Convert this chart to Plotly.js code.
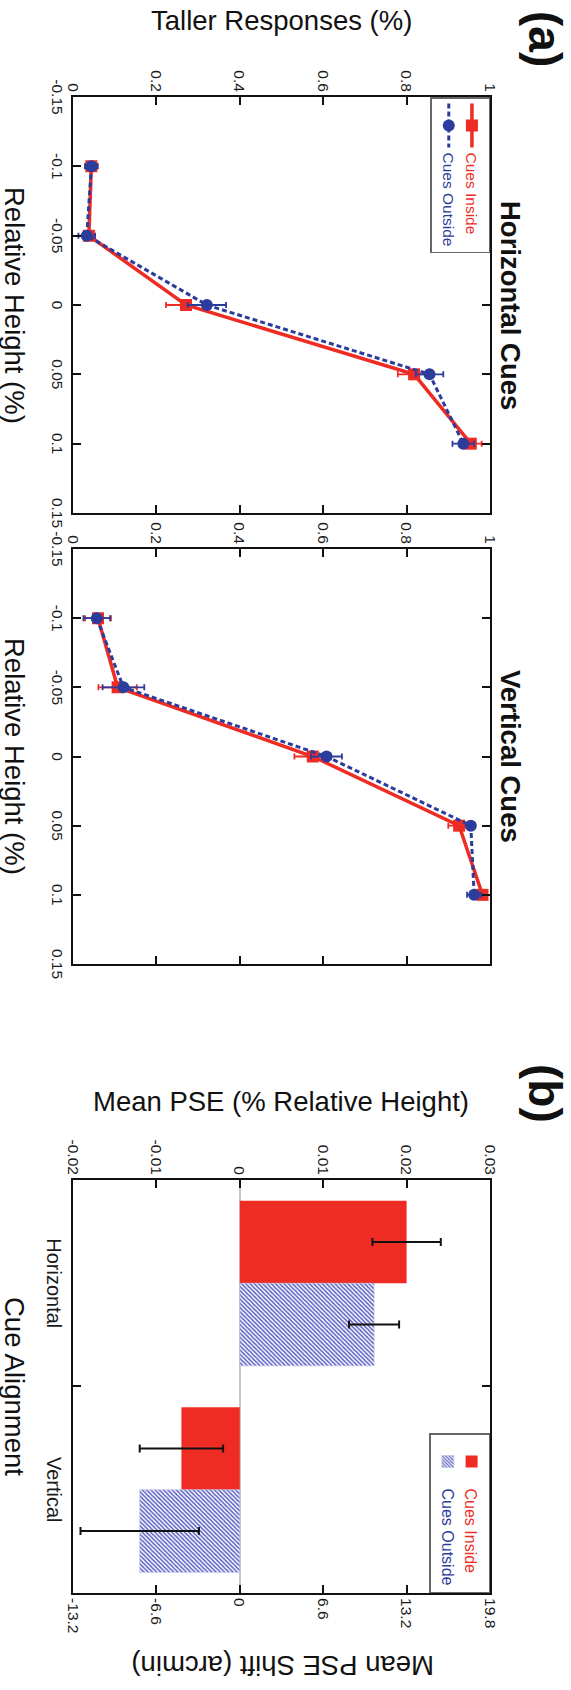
<!DOCTYPE html>
<html>
<head>
<meta charset="utf-8">
<script src="https://cdn.plot.ly/plotly-3.0.1.min.js"></script>
<style>
html,body{margin:0;padding:0;overflow:hidden;background:#fff;width:571px;height:1690px;}
#wrap{position:absolute;left:0;top:0;width:1690px;height:571px;transform-origin:0 0;transform:translate(571px,0) rotate(90deg);}
</style>
</head>
<body>
<div id="wrap"></div>
<script>
// ---- data ----
const relHeight = [-0.1, -0.05, 0, 0.05, 0.1];
const horizInside = [0.044, 0.038, 0.271, 0.818, 0.954];
const horizInsideErr = [0.015, 0.012, 0.048, 0.039, 0.026];
const horizOutside = [0.044, 0.033, 0.321, 0.855, 0.936];
const horizOutsideErr = [0.015, 0.020, 0.046, 0.033, 0.026];
const vertInside = [0.060, 0.107, 0.575, 0.926, 0.982];
const vertInsideErr = [0.031, 0.046, 0.044, 0.026, 0.010];
const vertOutside = [0.057, 0.121, 0.608, 0.954, 0.962];
const vertOutsideErr = [0.032, 0.050, 0.037, 0.010, 0.017];

const cueAlignment = ['Horizontal', 'Vertical'];
const pseInside = [0.0200, -0.0070];
const pseInsideErr = [0.0041, 0.0050];
const pseOutside = [0.0161, -0.0120];
const pseOutsideErr = [0.0030, 0.0071];

const xTickVals = [-0.15, -0.1, -0.05, 0, 0.05, 0.1, 0.15];
const xTickText = ['-0.15', '-0.1', '-0.05', '0', '0.05', '0.1', '0.15'];
const yTickVals = [0, 0.2, 0.4, 0.6, 0.8, 1];
const yTickText = ['0', '0.2', '0.4', '0.6', '0.8', '1'];
const pseTickVals = [-0.02, -0.01, 0, 0.01, 0.02, 0.03];
const pseTickText = ['-0.02', '-0.01', '0', '0.01', '0.02', '0.03'];
const arcTickVals = [-13.2, -6.6, 0, 6.6, 13.2, 19.8];
const arcTickText = ['-13.2', '-6.6', '0', '6.6', '13.2', '19.8'];

// ---- styles ----
const RED = '#ee2c24';
const BLUE = '#2c3c9c';
const nameIn = '<span style="color:' + RED + '">Cues Inside</span>';
const nameOut = '<span style="color:' + BLUE + '">Cues Outside</span>';

function lineTrace(y, err, xa, ya, inside, show) {
  return {
    type: 'scatter', mode: 'lines+markers', x: relHeight, y: y,
    xaxis: xa, yaxis: ya, name: inside ? nameIn : nameOut,
    legend: 'legend', showlegend: show, hoverinfo: 'skip',
    line: inside ? {color: RED, width: 3.5} : {color: BLUE, width: 3, dash: '5px,3px'},
    marker: {symbol: inside ? 'square' : 'circle', size: 12, color: inside ? RED : BLUE},
    error_y: {type: 'data', array: err, visible: true, color: inside ? RED : BLUE, thickness: 1.8, width: 3}
  };
}

const data = [
  lineTrace(horizInside, horizInsideErr, 'x', 'y', true, true),
  lineTrace(horizOutside, horizOutsideErr, 'x', 'y', false, true),
  lineTrace(vertInside, vertInsideErr, 'x2', 'y2', true, false),
  lineTrace(vertOutside, vertOutsideErr, 'x2', 'y2', false, false),
  {
    type: 'bar', x: cueAlignment, y: pseInside, xaxis: 'x3', yaxis: 'y3',
    name: nameIn, legend: 'legend2', hoverinfo: 'skip',
    marker: {color: RED, line: {width: 0}},
    error_y: {type: 'data', array: pseInsideErr, visible: true, color: '#111', thickness: 2, width: 4}
  },
  {
    type: 'bar', x: cueAlignment, y: pseOutside, xaxis: 'x3', yaxis: 'y3',
    name: nameOut, legend: 'legend2', hoverinfo: 'skip',
    marker: {color: 'white', line: {width: 0.6, color: '#b9bbe4'},
      pattern: {shape: '/', fgcolor: '#5a5fc2', bgcolor: 'white', size: 3, solidity: 0.5}},
    error_y: {type: 'data', array: pseOutsideErr, visible: true, color: '#111', thickness: 2, width: 4}
  },
  {
    type: 'scatter', mode: 'markers', x: cueAlignment, y: [null, null],
    xaxis: 'x3', yaxis: 'y4', showlegend: false, hoverinfo: 'skip'
  }
];

const tickFont = {size: 15.5, color: '#1a1a1a'};
function ax(extra) {
  return Object.assign({
    showline: true, linecolor: '#111', linewidth: 2, mirror: 'ticks',
    ticks: 'inside', ticklen: 8, tickwidth: 2, tickcolor: '#111',
    showgrid: false, zeroline: false, tickfont: tickFont, fixedrange: true
  }, extra);
}

const titleFont = {size: 27.5, color: '#111'};
const layout = {
  width: 1690, height: 571,
  margin: {l: 97, r: 97, t: 81, b: 73, pad: 0},
  paper_bgcolor: 'white', plot_bgcolor: 'white',
  font: {family: 'Liberation Sans, Arial, sans-serif', color: '#111'},
  barmode: 'group', bargap: 0.2, bargroupgap: 0,
  xaxis: ax({domain: [0, 0.27807], anchor: 'y', range: [-0.15, 0.15], tickvals: xTickVals, ticktext: xTickText}),
  yaxis: ax({domain: [0, 1], anchor: 'x', range: [0, 1], tickvals: yTickVals, ticktext: yTickText}),
  xaxis2: ax({domain: [0.30214, 0.57955], anchor: 'y2', range: [-0.15, 0.15], tickvals: xTickVals, ticktext: xTickText}),
  yaxis2: ax({domain: [0, 1], anchor: 'x2', range: [0, 1], tickvals: yTickVals, ticktext: yTickText}),
  xaxis3: ax({domain: [0.72393, 1], anchor: 'y3', type: 'category', range: [-0.5, 1.5], tickson: 'boundaries', tickfont: {size: 20, color: '#1a1a1a'}}),
  yaxis3: ax({domain: [0, 1], anchor: 'x3', range: [-0.02, 0.03], tickvals: pseTickVals, ticktext: pseTickText, mirror: false,
    zeroline: true, zerolinecolor: '#c8c8c8', zerolinewidth: 1.5}),
  yaxis4: ax({overlaying: 'y3', side: 'right', anchor: 'x3', range: [-13.2, 19.8], tickvals: arcTickVals, ticktext: arcTickText, mirror: false}),
  legend: {x: 0, xanchor: 'left', y: 1, yanchor: 'top', bordercolor: '#666', borderwidth: 1.5, bgcolor: 'white',
    font: {size: 15.5}, tracegroupgap: 0, itemwidth: 44},
  legend2: {x: 1, xanchor: 'right', y: 1, yanchor: 'top', bordercolor: '#666', borderwidth: 1.5, bgcolor: 'white',
    font: {size: 16}, tracegroupgap: 0, itemwidth: 44},
  annotations: [
    {text: '<b>(a)</b>', x: -0.0388, y: 1.1319, font: {size: 46, color: '#111'}},
    {text: '<b>(b)</b>', x: 0.66644, y: 1.1319, font: {size: 46, color: '#111'}},
    {text: 'Taller Responses (%)', x: -0.05147, y: 0.4988, textangle: -90, font: titleFont},
    {text: 'Relative Height (%)', x: 0.13904, y: -0.1391, font: titleFont},
    {text: 'Relative Height (%)', x: 0.44084, y: -0.1391, font: titleFont},
    {text: '<b>Horizontal Cues</b>', x: 0.13904, y: 1.048, font: titleFont},
    {text: '<b>Vertical Cues</b>', x: 0.44084, y: 1.048, font: titleFont},
    {text: 'Mean PSE (% Relative Height)', x: 0.67112, y: 0.4988, textangle: -90, font: titleFont},
    {text: 'Cue Alignment', x: 0.86197, y: -0.1391, font: titleFont},
    {text: 'Mean PSE Shift (arcmin)', x: 1.04813, y: 0.5036, textangle: 90, font: titleFont}
  ].map(a => Object.assign({xref: 'paper', yref: 'paper', showarrow: false, xanchor: 'center', yanchor: 'middle'}, a))
};

Plotly.newPlot('wrap', data, layout, {staticPlot: true, displayModeBar: false});
</script>
</body>
</html>
